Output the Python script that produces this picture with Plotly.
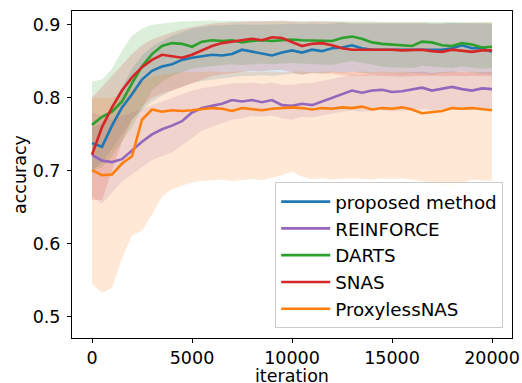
import plotly.graph_objects as go

iterations = list(range(0, 20001, 500))
x_tick_vals = [0, 5000, 10000, 15000, 20000]
x_tick_text = ["0", "5000", "10000", "15000", "20000"]
y_tick_vals = [0.5, 0.6, 0.7, 0.8, 0.9]

proposed_mean = [0.738, 0.733, 0.762, 0.787, 0.805, 0.825, 0.837, 0.843, 0.846, 0.852, 0.855,
                 0.857, 0.859, 0.858, 0.860, 0.866, 0.863, 0.860, 0.858, 0.862, 0.865,
                 0.862, 0.866, 0.864, 0.868, 0.869, 0.872, 0.868, 0.866, 0.866, 0.866,
                 0.865, 0.865, 0.866, 0.866, 0.866, 0.868, 0.872, 0.868, 0.868, 0.863]
proposed_low = [0.700, 0.712, 0.730, 0.750, 0.770, 0.783, 0.795, 0.803, 0.810, 0.815, 0.820,
                0.823, 0.825, 0.826, 0.828, 0.830, 0.830, 0.831, 0.830, 0.832, 0.833,
                0.832, 0.834, 0.833, 0.835, 0.834, 0.836, 0.834, 0.833, 0.834, 0.833,
                0.832, 0.834, 0.833, 0.832, 0.834, 0.835, 0.836, 0.834, 0.833, 0.832]
proposed_high = [0.760, 0.765, 0.790, 0.815, 0.840, 0.858, 0.870, 0.878, 0.885, 0.890, 0.895,
                 0.897, 0.899, 0.899, 0.900, 0.901, 0.900, 0.900, 0.901, 0.901, 0.902,
                 0.901, 0.902, 0.901, 0.902, 0.903, 0.902, 0.902, 0.901, 0.902, 0.902,
                 0.901, 0.902, 0.902, 0.901, 0.902, 0.903, 0.902, 0.902, 0.902, 0.901]

reinforce_mean = [0.722, 0.714, 0.712, 0.716, 0.728, 0.740, 0.750, 0.757, 0.762, 0.768, 0.780,
                  0.786, 0.789, 0.792, 0.797, 0.795, 0.797, 0.794, 0.797, 0.790, 0.789,
                  0.792, 0.790, 0.795, 0.800, 0.806, 0.810, 0.807, 0.810, 0.811, 0.808,
                  0.809, 0.812, 0.814, 0.810, 0.812, 0.815, 0.812, 0.810, 0.813, 0.812]
reinforce_low = [0.665, 0.655, 0.670, 0.685, 0.695, 0.705, 0.715, 0.720, 0.725, 0.735, 0.745,
                 0.755, 0.760, 0.765, 0.770, 0.772, 0.775, 0.774, 0.776, 0.772, 0.770,
                 0.774, 0.773, 0.776, 0.779, 0.781, 0.783, 0.781, 0.782, 0.783, 0.781,
                 0.782, 0.784, 0.785, 0.783, 0.784, 0.786, 0.784, 0.783, 0.785, 0.784]
reinforce_high = [0.780, 0.775, 0.770, 0.775, 0.780, 0.785, 0.790, 0.795, 0.800, 0.805, 0.810,
                  0.813, 0.815, 0.818, 0.820, 0.820, 0.821, 0.819, 0.821, 0.818, 0.818,
                  0.820, 0.820, 0.823, 0.826, 0.829, 0.832, 0.831, 0.833, 0.834, 0.833,
                  0.833, 0.835, 0.836, 0.834, 0.835, 0.836, 0.835, 0.834, 0.835, 0.835]

darts_mean = [0.763, 0.774, 0.781, 0.795, 0.820, 0.843, 0.860, 0.871, 0.875, 0.874, 0.870,
              0.877, 0.879, 0.878, 0.879, 0.876, 0.878, 0.879, 0.878, 0.879, 0.880,
              0.879, 0.879, 0.878, 0.878, 0.882, 0.884, 0.881, 0.876, 0.874, 0.873,
              0.872, 0.871, 0.877, 0.876, 0.872, 0.871, 0.875, 0.873, 0.869, 0.870]
darts_low = [0.700, 0.705, 0.720, 0.740, 0.760, 0.785, 0.810, 0.822, 0.830, 0.835, 0.840,
             0.842, 0.844, 0.845, 0.846, 0.845, 0.846, 0.847, 0.846, 0.847, 0.848,
             0.847, 0.846, 0.846, 0.845, 0.848, 0.850, 0.848, 0.845, 0.843, 0.842,
             0.842, 0.841, 0.844, 0.843, 0.842, 0.841, 0.843, 0.842, 0.840, 0.841]
darts_high = [0.822, 0.825, 0.840, 0.865, 0.885, 0.895, 0.900, 0.902, 0.904, 0.905, 0.905,
              0.906, 0.906, 0.905, 0.906, 0.905, 0.905, 0.906, 0.905, 0.905, 0.906,
              0.905, 0.905, 0.905, 0.905, 0.906, 0.906, 0.905, 0.905, 0.904, 0.904,
              0.904, 0.904, 0.905, 0.905, 0.904, 0.904, 0.905, 0.904, 0.904, 0.904]

snas_mean = [0.722, 0.760, 0.787, 0.810, 0.828, 0.842, 0.852, 0.859, 0.857, 0.855, 0.859,
             0.865, 0.871, 0.875, 0.877, 0.880, 0.881, 0.879, 0.883, 0.882, 0.876,
             0.871, 0.874, 0.875, 0.872, 0.868, 0.866, 0.866, 0.867, 0.866, 0.866,
             0.865, 0.866, 0.866, 0.864, 0.863, 0.866, 0.865, 0.863, 0.865, 0.865]
snas_low = [0.660, 0.660, 0.700, 0.740, 0.770, 0.788, 0.800, 0.806, 0.810, 0.815, 0.820,
            0.825, 0.830, 0.832, 0.834, 0.836, 0.837, 0.836, 0.838, 0.838, 0.835,
            0.832, 0.834, 0.834, 0.833, 0.831, 0.830, 0.830, 0.831, 0.830, 0.830,
            0.829, 0.830, 0.830, 0.829, 0.829, 0.830, 0.830, 0.829, 0.830, 0.830]
snas_high = [0.800, 0.815, 0.830, 0.845, 0.860, 0.872, 0.880, 0.885, 0.890, 0.894, 0.897,
             0.900, 0.902, 0.903, 0.904, 0.905, 0.905, 0.905, 0.906, 0.906, 0.905,
             0.904, 0.905, 0.905, 0.904, 0.904, 0.903, 0.903, 0.904, 0.903, 0.903,
             0.903, 0.903, 0.903, 0.902, 0.902, 0.903, 0.903, 0.902, 0.903, 0.903]

proxyless_mean = [0.701, 0.694, 0.695, 0.710, 0.720, 0.770, 0.784, 0.781, 0.783, 0.782, 0.783,
                  0.784, 0.786, 0.785, 0.782, 0.786, 0.785, 0.783, 0.785, 0.786, 0.787,
                  0.786, 0.784, 0.786, 0.785, 0.787, 0.786, 0.788, 0.784, 0.786, 0.785,
                  0.787, 0.784, 0.779, 0.781, 0.782, 0.786, 0.785, 0.786, 0.784, 0.783]
proxyless_low = [0.545, 0.533, 0.540, 0.580, 0.612, 0.618, 0.640, 0.665, 0.675, 0.680, 0.684,
                 0.686, 0.687, 0.688, 0.686, 0.688, 0.689, 0.687, 0.690, 0.694, 0.699,
                 0.692, 0.689, 0.690, 0.688, 0.689, 0.690, 0.689, 0.688, 0.690, 0.689,
                 0.690, 0.688, 0.686, 0.684, 0.680, 0.678, 0.684, 0.688, 0.687, 0.686]
proxyless_high = [0.800, 0.800, 0.800, 0.805, 0.815, 0.822, 0.830, 0.832, 0.834, 0.835, 0.835,
                  0.836, 0.836, 0.835, 0.836, 0.836, 0.835, 0.836, 0.836, 0.835, 0.836,
                  0.836, 0.835, 0.836, 0.836, 0.835, 0.836, 0.836, 0.835, 0.836, 0.835,
                  0.836, 0.835, 0.834, 0.834, 0.835, 0.836, 0.835, 0.836, 0.835, 0.835]

series = [
    ("proposed method", "#1f77b4", (31, 119, 180), proposed_mean, proposed_low, proposed_high),
    ("REINFORCE", "#9467bd", (148, 103, 189), reinforce_mean, reinforce_low, reinforce_high),
    ("DARTS", "#2ca02c", (44, 160, 44), darts_mean, darts_low, darts_high),
    ("SNAS", "#d62728", (214, 39, 40), snas_mean, snas_low, snas_high),
    ("ProxylessNAS", "#ff7f0e", (255, 127, 14), proxyless_mean, proxyless_low, proxyless_high),
]

fig = go.Figure()
for name, color, rgb, mean, low, high in series:
    fill = "rgba(%d,%d,%d,0.17)" % rgb
    fig.add_trace(go.Scatter(x=iterations, y=low, mode="lines", line=dict(width=0),
                             showlegend=False, hoverinfo="skip"))
    fig.add_trace(go.Scatter(x=iterations, y=high, mode="lines", line=dict(width=0),
                             fill="tonexty", fillcolor=fill, showlegend=False, hoverinfo="skip"))

for name, color, rgb, mean, low, high in series:
    fig.add_trace(go.Scatter(x=iterations, y=mean, mode="lines", name=name,
                             legendgroup=name,
                             line=dict(color=color, width=2.6)))

axis_common = dict(showline=True, linecolor="black", linewidth=1, mirror=True,
                   ticks="outside", ticklen=4, tickcolor="black", showgrid=False,
                   zeroline=False, automargin=False,
                   tickfont=dict(size=17.5, color="black"))

fig.update_layout(
    width=522, height=383,
    margin=dict(l=72, r=10, t=11, b=45),
    paper_bgcolor="white", plot_bgcolor="white",
    font=dict(family="DejaVu Sans", size=17.5, color="black"),
    xaxis=dict(range=[-1000, 21000], tickmode="array", tickvals=x_tick_vals,
               ticktext=x_tick_text, **axis_common),
    yaxis=dict(range=[0.471, 0.919], tickmode="array", tickvals=y_tick_vals,
               tickformat=".1f", ticklabelstandoff=3,
               title=dict(text="accuracy", standoff=1, font=dict(size=17.5)), **axis_common),
    legend=dict(x=0.98, y=0.03, xanchor="right", yanchor="bottom", traceorder="normal",
                bgcolor="rgba(255,255,255,0.8)", bordercolor="#cccccc", borderwidth=1,
                font=dict(size=18.3), tracegroupgap=2, itemwidth=49),
    annotations=[dict(text="iteration", xref="paper", yref="paper", x=0.5, y=-0.08,
                      xanchor="center", yanchor="top", showarrow=False,
                      font=dict(size=17.5, color="black"))],
    showlegend=True,
)

fig.write_html("out.html", config={"displayModeBar": False},
               post_script="document.body.style.margin='0';document.body.style.overflow='hidden';")
